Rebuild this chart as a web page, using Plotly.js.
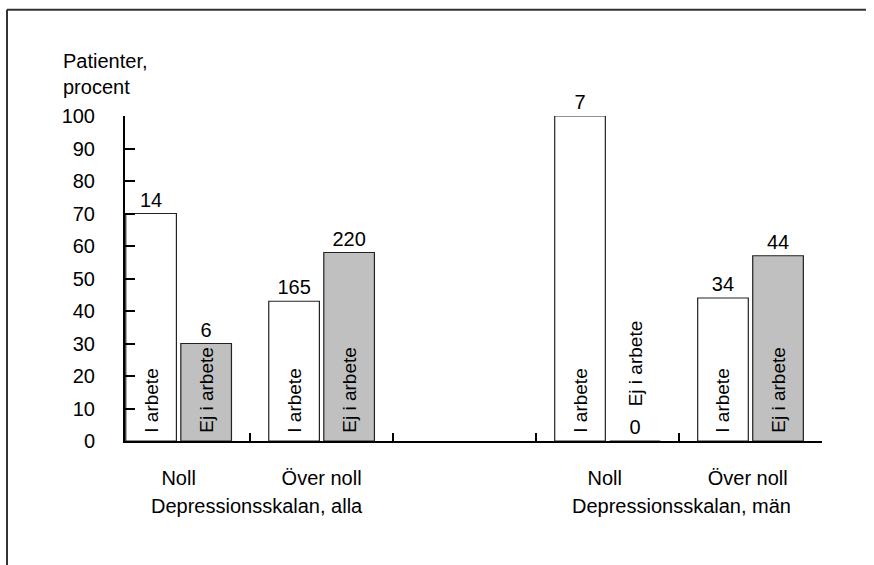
<!DOCTYPE html>
<html><head><meta charset="utf-8">
<script src="https://cdn.plot.ly/plotly-3.0.1.min.js"></script>
<style>html,body{margin:0;padding:0;background:#fff;overflow:hidden}#chart{width:874px;height:565px}</style>
</head><body><div id="chart"></div>
<script>
const categories = ['Noll', 'Över noll', '\u00a0', 'Noll\u00a0', 'Över noll\u00a0'];
const iArbete = [70, 43, null, 100, 44];
const ejIArbete = [30, 58, null, 0, 57];
const iArbeteN = ['14', '165', '', '7', '34'];
const ejIArbeteN = ['6', '220', '', '0', '44'];
const seriesNames = ['I arbete', 'Ej i arbete'];
const groupTitles = ['Depressionsskalan, alla', 'Depressionsskalan, män'];
const yTitle = 'Patienter,<br>procent';

const FONT = 'Liberation Sans, Arial, sans-serif';
const FS = 20;
const pad = '\u00a0';
const zeroPad = '\u00a0'.repeat(6);

function mainTrace(vals, name, color) {
  return {
    type: 'bar', x: categories, y: vals, name: name,
    marker: {color: color, line: {color: '#222', width: 1.2}},
    text: vals.map(v => v === null ? '' : (v === 0 ? zeroPad + name : pad + name)),
    textposition: vals.map(v => v === 0 ? 'outside' : 'inside'),
    insidetextanchor: 'start', textangle: -90,
    textfont: {family: FONT, size: FS - 1, color: '#000'},
    constraintext: 'none', cliponaxis: false, hoverinfo: 'skip',
    xaxis: 'x', yaxis: 'y'
  };
}
function countTrace(vals, labels) {
  return {
    type: 'bar', x: categories, y: vals,
    marker: {color: 'rgba(0,0,0,0)', line: {width: 0}},
    text: labels, textposition: 'outside', textangle: 0,
    textfont: {family: FONT, size: FS, color: '#000'},
    constraintext: 'none', cliponaxis: false, hoverinfo: 'skip',
    xaxis: 'x2', yaxis: 'y'
  };
}

const data = [
  mainTrace(iArbete, seriesNames[0], '#ffffff'),
  mainTrace(ejIArbete, seriesNames[1], '#c0c0c0'),
  countTrace(iArbete, iArbeteN),
  countTrace(ejIArbete, ejIArbeteN)
];

const xr = [-0.375, 4.5];
const layout = {
  width: 874, height: 565,
  margin: {l: 125, r: 52, t: 115.5, b: 124, pad: 0},
  paper_bgcolor: '#fff', plot_bgcolor: '#fff',
  showlegend: false,
  barmode: 'group', bargap: 0.23, bargroupgap: 0.08,
  font: {family: FONT, size: FS, color: '#000'},
  xaxis: {
    type: 'category', categoryorder: 'array', categoryarray: categories,
    range: xr, showgrid: false, zeroline: false,
    showline: true, linecolor: '#000', linewidth: 2,
    ticks: 'inside', tickson: 'boundaries', ticklen: 8, tickwidth: 2, tickcolor: '#000',
    ticklabelstandoff: 18, layer: 'above traces',
    tickfont: {family: FONT, size: FS, color: '#000'}
  },
  xaxis2: {
    type: 'category', categoryorder: 'array', categoryarray: categories,
    overlaying: 'x', range: xr, visible: false
  },
  yaxis: {
    range: [0, 100], dtick: 10, showgrid: false, zeroline: false,
    showline: true, linecolor: '#000', linewidth: 2,
    ticks: 'inside', ticklen: 10, tickwidth: 2, tickcolor: '#000',
    ticklabelstandoff: 24, layer: 'above traces',
    tickfont: {family: FONT, size: FS, color: '#000'}
  },
  annotations: [
    {text: groupTitles[0], xref: 'x', yref: 'paper', x: 0.55, y: -0.2, xanchor: 'center', yanchor: 'middle', showarrow: false, font: {family: FONT, size: FS, color: '#000'}},
    {text: groupTitles[1], xref: 'x', yref: 'paper', x: 3.52, y: -0.2, xanchor: 'center', yanchor: 'middle', showarrow: false, font: {family: FONT, size: FS, color: '#000'}},
    {text: yTitle, xref: 'paper', yref: 'paper', x: -0.092, y: 1.129, xanchor: 'left', yanchor: 'middle', align: 'left', showarrow: false, font: {family: FONT, size: FS, color: '#000'}}
  ],
  shapes: [
    {type: 'line', xref: 'paper', yref: 'paper', x0: -0.1693, x1: 1.0631, y0: 1.327, y1: 1.327, line: {color: '#333', width: 2}, layer: 'below'},
    {type: 'line', xref: 'paper', yref: 'paper', x0: -0.1693, x1: -0.1693, y0: -0.6, y1: 1.327, line: {color: '#333', width: 2}, layer: 'below'}
  ]
};

Plotly.newPlot('chart', data, layout, {displayModeBar: false, staticPlot: true});
</script>
</body></html>
